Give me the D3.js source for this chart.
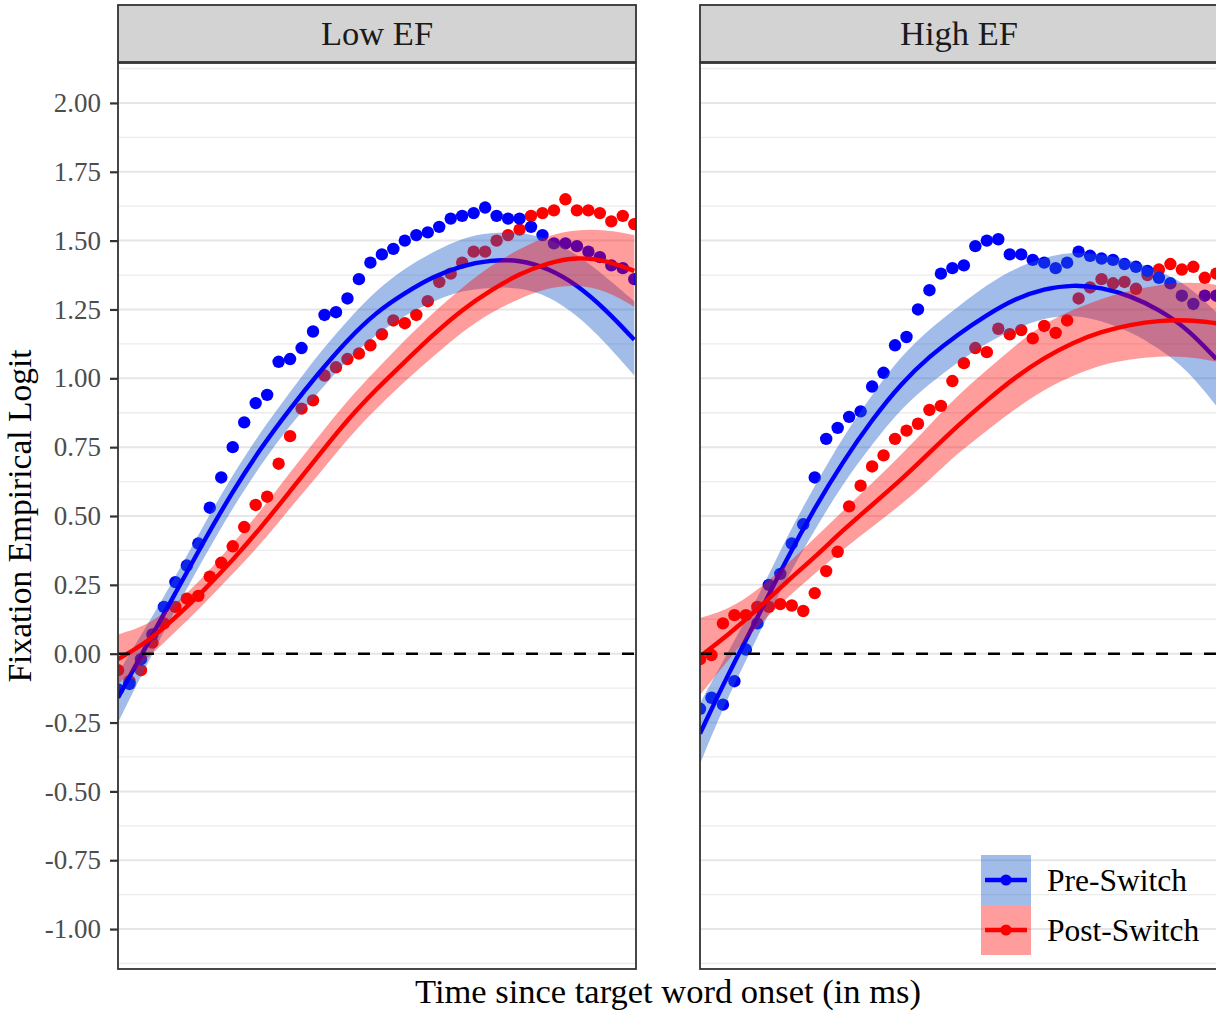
<!DOCTYPE html>
<html>
<head>
<meta charset="utf-8">
<script src="https://cdn.jsdelivr.net/npm/d3@7"></script>
<style>
  body { margin: 0; background: #fff; }
  text { font-family: "Liberation Serif", "DejaVu Serif", serif; }
</style>
</head>
<body>
<svg id="chart" width="1216" height="1011"></svg>
<script>
// facets and groups
const facets = ["Low EF", "High EF"];
const groups = ["Pre-Switch", "Post-Switch"];

// time bins of the observed points (ms)
const times = [0,20,40,60,80,100,120,140,160,180,200,220,240,260,280,300,320,340,360,380,400,420,440,460,480,500,520,540,560,580,600,620,640,660,680,700,720,740,760,780,800,820,840,860,880,900];

// observed empirical logits
const lowPre = [-0.13,-0.11,-0.02,0.07,0.17,0.26,0.32,0.40,0.53,0.64,0.75,0.84,0.91,0.94,1.06,1.07,1.11,1.17,1.23,1.24,1.29,1.36,1.42,1.45,1.47,1.50,1.52,1.53,1.55,1.58,1.59,1.60,1.62,1.59,1.58,1.58,1.55,1.52,1.49,1.49,1.48,1.46,1.44,1.41,1.40,1.36];
const lowPost = [-0.06,-0.10,-0.06,0.04,0.11,0.17,0.20,0.21,0.28,0.33,0.39,0.46,0.54,0.57,0.69,0.79,0.89,0.92,1.01,1.04,1.07,1.09,1.12,1.16,1.21,1.20,1.23,1.28,1.35,1.38,1.42,1.46,1.46,1.50,1.52,1.54,1.59,1.60,1.61,1.65,1.61,1.61,1.60,1.57,1.59,1.56];
const highPre = [-0.20,-0.16,-0.185,-0.10,0.015,0.11,0.25,0.29,0.40,0.47,0.64,0.78,0.82,0.86,0.88,0.97,1.02,1.12,1.15,1.25,1.32,1.38,1.40,1.41,1.48,1.50,1.505,1.45,1.45,1.43,1.42,1.40,1.42,1.46,1.445,1.435,1.43,1.415,1.405,1.39,1.365,1.345,1.30,1.27,1.30,1.30];
const highPost = [-0.02,-0.005,0.11,0.14,0.14,0.17,0.17,0.18,0.175,0.155,0.22,0.30,0.37,0.535,0.61,0.68,0.72,0.78,0.81,0.835,0.885,0.90,0.99,1.055,1.11,1.095,1.18,1.16,1.175,1.145,1.19,1.165,1.21,1.29,1.33,1.36,1.345,1.35,1.325,1.375,1.395,1.415,1.395,1.405,1.365,1.38];

// model fits with confidence bands
const fitTimes = [0,50,100,150,200,250,300,350,400,450,500,550,600,650,700,750,800,850,900];
const lowPreFit = [-0.16,0.03,0.22,0.41,0.59,0.75,0.89,1.02,1.14,1.24,1.31,1.37,1.41,1.43,1.43,1.40,1.34,1.25,1.14];
const lowPreLo  = [-0.25,-0.04,0.16,0.35,0.53,0.69,0.83,0.95,1.07,1.16,1.23,1.28,1.32,1.33,1.33,1.30,1.23,1.13,1.01];
const lowPreHi  = [-0.07,0.10,0.28,0.47,0.65,0.81,0.95,1.09,1.21,1.32,1.40,1.46,1.51,1.53,1.53,1.51,1.45,1.37,1.28];
const lowPostFit = [-0.02,0.04,0.13,0.23,0.34,0.46,0.59,0.72,0.85,0.96,1.06,1.16,1.25,1.32,1.38,1.42,1.44,1.43,1.39];
const lowPostLo  = [-0.11,-0.02,0.08,0.18,0.29,0.40,0.53,0.65,0.78,0.89,0.99,1.08,1.17,1.24,1.29,1.33,1.34,1.32,1.26];
const lowPostHi  = [0.07,0.10,0.18,0.28,0.40,0.52,0.66,0.79,0.92,1.03,1.14,1.24,1.33,1.41,1.47,1.52,1.54,1.54,1.52];
const highPreFit = [-0.29,-0.07,0.13,0.34,0.53,0.70,0.85,0.98,1.08,1.16,1.23,1.29,1.325,1.34,1.33,1.30,1.25,1.18,1.07];
const highPreLo  = [-0.40,-0.15,0.06,0.27,0.45,0.62,0.76,0.89,0.98,1.06,1.13,1.18,1.22,1.23,1.21,1.17,1.11,1.03,0.90];
const highPreHi  = [-0.18,0.01,0.20,0.42,0.61,0.79,0.94,1.08,1.18,1.26,1.34,1.40,1.44,1.46,1.45,1.43,1.39,1.34,1.24];
const highPostFit = [-0.01,0.07,0.16,0.26,0.35,0.45,0.54,0.63,0.73,0.83,0.92,1.005,1.075,1.13,1.17,1.195,1.21,1.212,1.20];
const highPostLo  = [-0.15,-0.02,0.10,0.20,0.29,0.38,0.46,0.54,0.63,0.73,0.81,0.89,0.96,1.01,1.05,1.07,1.08,1.08,1.06];
const highPostHi  = [0.13,0.16,0.23,0.32,0.42,0.52,0.62,0.72,0.83,0.94,1.03,1.12,1.20,1.25,1.29,1.32,1.34,1.35,1.34];

// axis ticks
const yTicks = [-1,-0.75,-0.5,-0.25,0,0.25,0.5,0.75,1,1.25,1.5,1.75,2];
const yMinorTicks = [-1.125,-0.875,-0.625,-0.375,-0.125,0.125,0.375,0.625,0.875,1.125,1.375,1.625,1.875,2.125];

// layout
const panelW = 518, panelH = 906, panelTop = 63, stripH = 57;
const panelLefts = [118, 700];
const dotR = 6.2, lineW = 4.4;

const svg = d3.select("#chart");
svg.append("rect").attr("width", 1216).attr("height", 1011).attr("fill", "#fff");

const x = d3.scaleLinear().domain([0, 903]).range([0, panelW]);
const y = d3.scaleLinear().domain([-1.145, 2.145]).range([panelH, 0]);

const pointColor = { "Pre-Switch": "#0000ff", "Post-Switch": "#ff0000" };
const bandColor = { "Pre-Switch": "#2060c8", "Post-Switch": "#ff0000" };
const bandOpacity = { "Pre-Switch": 0.42, "Post-Switch": 0.39 };

const panelData = [
    {
        points: { "Pre-Switch": lowPre, "Post-Switch": lowPost },
        fit: { "Pre-Switch": [lowPreFit, lowPreLo, lowPreHi], "Post-Switch": [lowPostFit, lowPostLo, lowPostHi] }
    },
    {
        points: { "Pre-Switch": highPre, "Post-Switch": highPost },
        fit: { "Pre-Switch": [highPreFit, highPreLo, highPreHi], "Post-Switch": [highPostFit, highPostLo, highPostHi] }
    }
];

const band = d3.area()
    .x(d => x(d.t))
    .y0(d => y(d.lo))
    .y1(d => y(d.hi))
    .curve(d3.curveBasis);

const fitLine = d3.line()
    .x(d => x(d.t))
    .y(d => y(d.fit))
    .curve(d3.curveBasis);

facets.forEach((facet, fi) => {
    const pd = panelData[fi];
    const g = svg.append("g").attr("transform", `translate(${panelLefts[fi]},${panelTop})`);

    svg.append("clipPath").attr("id", "clip" + fi)
        .append("rect").attr("width", panelW).attr("height", panelH);

    // grid
    g.selectAll(".minor").data(yMinorTicks).enter().append("line")
        .attr("x1", 0).attr("x2", panelW)
        .attr("y1", d => y(d)).attr("y2", d => y(d))
        .attr("stroke", "#ececec").attr("stroke-width", 1.3);
    g.selectAll(".major").data(yTicks).enter().append("line")
        .attr("x1", 0).attr("x2", panelW)
        .attr("y1", d => y(d)).attr("y2", d => y(d))
        .attr("stroke", "#e6e6e6").attr("stroke-width", 2);

    const plot = g.append("g").attr("clip-path", `url(#clip${fi})`);

    // observed points (post first, pre on top)
    ["Post-Switch", "Pre-Switch"].forEach(grp => {
        plot.append("g").selectAll("circle")
            .data(times.map((t, i) => ({ t: t, v: pd.points[grp][i] })))
            .enter().append("circle")
            .attr("cx", d => x(d.t))
            .attr("cy", d => y(d.v))
            .attr("r", dotR)
            .attr("fill", pointColor[grp]);
    });

    // fitted curves with ribbons
    groups.forEach(grp => {
        const [f, lo, hi] = pd.fit[grp];
        const rows = fitTimes.map((t, i) => ({ t: t, fit: f[i], lo: lo[i], hi: hi[i] }));
        plot.append("path").datum(rows)
            .attr("d", band)
            .attr("fill", bandColor[grp])
            .attr("fill-opacity", bandOpacity[grp]);
        plot.append("path").datum(rows)
            .attr("d", fitLine)
            .attr("fill", "none")
            .attr("stroke", pointColor[grp])
            .attr("stroke-width", lineW);
    });

    // reference line at zero
    plot.append("line")
        .attr("x1", 0).attr("x2", panelW)
        .attr("y1", y(0)).attr("y2", y(0))
        .attr("stroke", "#000").attr("stroke-width", 2.4)
        .attr("stroke-dasharray", "12,12");

    // panel border
    g.append("rect")
        .attr("width", panelW).attr("height", panelH)
        .attr("fill", "none").attr("stroke", "#333").attr("stroke-width", 1.8);

    // strip
    g.append("rect")
        .attr("y", -stripH - 1).attr("width", panelW).attr("height", stripH)
        .attr("fill", "#d3d3d3").attr("stroke", "#333").attr("stroke-width", 1.8);
    g.append("text")
        .attr("x", panelW / 2).attr("y", -18)
        .attr("text-anchor", "middle")
        .attr("font-size", 34.5).attr("fill", "#1a1a1a")
        .text(facet);

    if (fi === 0) {
        const ax = g.append("g")
            .call(d3.axisLeft(y).tickValues(yTicks).tickSize(8).tickPadding(9).tickFormat(d => d.toFixed(2)));
        ax.select(".domain").remove();
        ax.selectAll("line").attr("stroke", "#333").attr("stroke-width", 2.2);
        ax.selectAll("text").attr("fill", "#4d4d4d").attr("font-size", 27);
    }
});

// axis titles
svg.append("text")
    .attr("transform", "translate(31,516) rotate(-90)")
    .attr("text-anchor", "middle")
    .attr("font-size", 33.5).attr("fill", "#000")
    .text("Fixation Empirical Logit");

svg.append("text")
    .attr("x", 668).attr("y", 1003)
    .attr("text-anchor", "middle")
    .attr("font-size", 34.5).attr("fill", "#000")
    .text("Time since target word onset (in ms)");

// legend inside the High EF panel
const legend = svg.append("g").attr("transform", "translate(981,855)");
groups.forEach((grp, i) => {
    const row = legend.append("g").attr("transform", `translate(0,${i * 50})`);
    row.append("rect").attr("width", 50).attr("height", 50)
        .attr("fill", bandColor[grp]).attr("fill-opacity", bandOpacity[grp]);
    row.append("line").attr("x1", 4).attr("x2", 46).attr("y1", 25).attr("y2", 25)
        .attr("stroke", pointColor[grp]).attr("stroke-width", lineW);
    row.append("circle").attr("cx", 25).attr("cy", 25).attr("r", 5.6)
        .attr("fill", pointColor[grp]);
    row.append("text").attr("x", 66).attr("y", 36)
        .attr("font-size", 31.5).attr("fill", "#000")
        .text(grp);
});
</script>
</body>
</html>
